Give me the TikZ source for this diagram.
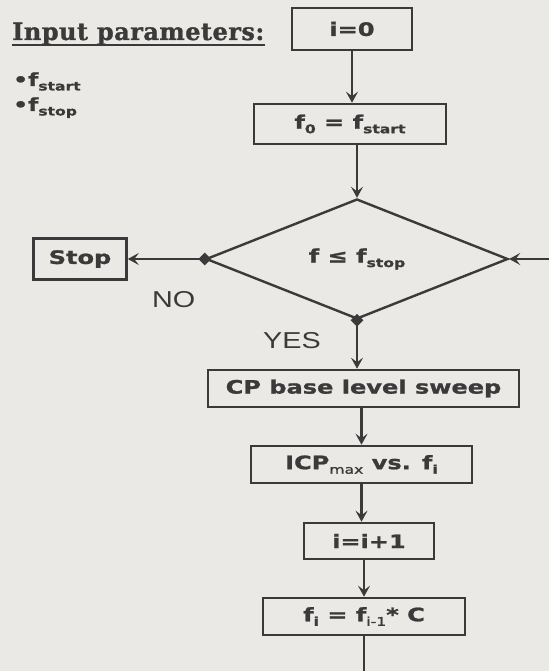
\documentclass[tikz,border=0pt]{standalone}
\usepackage{fontspec}
\usetikzlibrary{arrows.meta,shapes.geometric}
\newfontfamily\boxfont[FakeStretch=1.3,FakeBold=1.2]{DejaVu Sans}
\newfontfamily\lblfont[FakeStretch=1.25]{Liberation Sans}
\newfontfamily\slabfont[FakeBold=1.2,LetterSpace=2]{DejaVu Serif}
\definecolor{ink}{HTML}{3A3A3A}
\definecolor{paper}{HTML}{EBE9E5}
\newcommand\mysub[1]{\raisebox{-0.45ex}{\fontsize{12}{12}\selectfont #1}}
\tikzset{
  flowbox/.style={draw=ink, line width=2.6pt, inner sep=0pt, text=ink,
    font=\boxfont\bfseries\fontsize{18.5}{18.5}\selectfont},
  decision/.style={draw=ink, line width=2.4pt, shape=diamond, inner sep=0pt, text=ink,
    minimum width=302pt, minimum height=120pt,
    font=\boxfont\bfseries\fontsize{18.5}{18.5}\selectfont},
  flowarrow/.style={draw=ink, line width=2.6pt, -{Stealth[length=11pt,width=12pt,inset=4.5pt]}},
  flowline/.style={draw=ink, line width=2.6pt},
  vertexdot/.style={shape=diamond, fill=ink, inner sep=0pt, minimum size=13pt},
  lbl/.style={text=ink, inner sep=0pt, font=\lblfont\fontsize{23}{23}\selectfont},
}
\begin{document}
\begin{tikzpicture}[x=1pt,y=-1pt]
\fill[paper] (0,0) rectangle (549,671);
\useasboundingbox (0,0) rectangle (549,671);

% heading and inputs
\node[anchor=base west, inner sep=0pt, text=ink, font=\slabfont\bfseries\fontsize{24}{24}\selectfont] (ip) at (12,40) {Input parameters:};
\draw[ink, line width=2pt] ([yshift=-5pt]ip.base west) -- ([yshift=-5pt]ip.base east);
\node[anchor=base west, inner sep=0pt, text=ink, font=\boxfont\bfseries\fontsize{18}{18}\selectfont] (fa) at (13,86) {•f\raisebox{-0.45ex}{\fontsize{12}{12}\selectfont start}};
\node[anchor=base west, inner sep=0pt, text=ink, font=\boxfont\bfseries\fontsize{18}{18}\selectfont] (fb) at (13,111) {•f\raisebox{-0.45ex}{\fontsize{12}{12}\selectfont stop}};

% boxes
\node[flowbox, minimum width=120pt, minimum height=42pt] (i0) at (352,29) {i=0};
\node[flowbox, minimum width=192pt, minimum height=40pt] (f0) at (350,124) {f\mysub{0} = f\mysub{start}};
\node[decision] (d) at (357,259) {f ≤ f\mysub{stop}};
\node[flowbox, minimum width=93pt, minimum height=41pt] (stop) at (80,259) {Stop};
\node[flowbox, minimum width=311pt, minimum height=37pt] (cp) at (363.5,388.5) {CP base level sweep};
\node[flowbox, minimum width=221pt, minimum height=37pt] (icp) at (361.5,464.5) {ICP\mysub{\mdseries max} vs. f\mysub{i}};
\node[flowbox, minimum width=130pt, minimum height=36pt] (i1) at (369,541) {i=i+1};
\node[flowbox, minimum width=202pt, minimum height=37pt] (fi) at (364,616.5) {f\mysub{i} = f\mysub{\mdseries i-1}* C};

% free ends
\coordinate (rin) at (549,259);
\coordinate (bot) at (364,671);

% connectors
\draw[flowarrow] (i0.south) -- (i0.south |- f0.north);
\draw[flowarrow] (f0.south -| d.north) -- (d.north);
\draw[flowarrow] (d.west) -- (stop.east);
\draw[flowarrow] (rin) -- (d.east);
\draw[flowarrow] (d.south) -- (d.south |- cp.north);
\draw[flowarrow] (icp.north |- cp.south) -- (icp.north);
\draw[flowarrow] (icp.south) -- (icp.south |- i1.north);
\draw[flowarrow] (fi.north |- i1.south) -- (fi.north);
\draw[flowline] (fi.south) -- (bot);

\node[vertexdot] (dl) at (d.west) {};
\node[vertexdot] (db) at (d.south) {};

% branch labels
\node[lbl, anchor=base west] (no) at (152,307) {NO};
\node[lbl, anchor=base west] (yes) at (263,348) {YES};
\end{tikzpicture}
\end{document}
